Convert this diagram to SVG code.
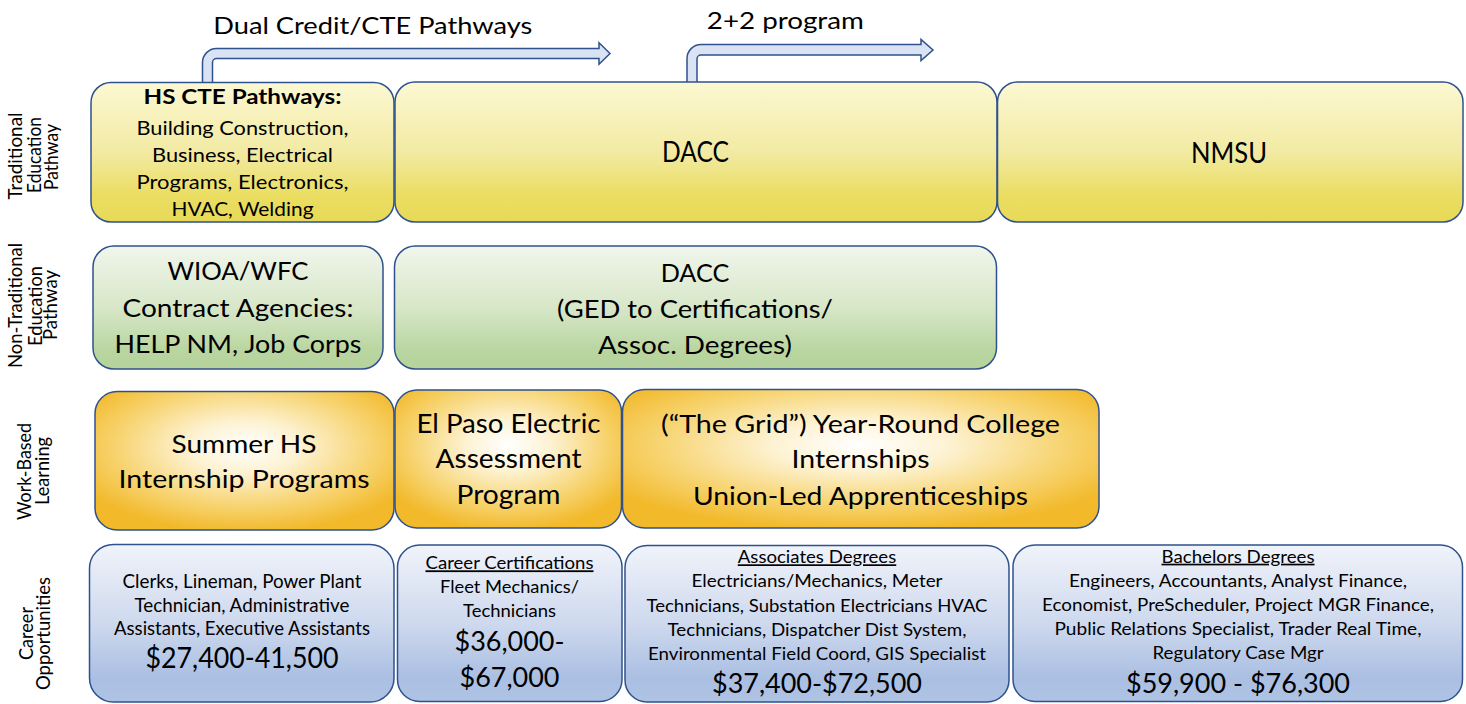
<svg xmlns="http://www.w3.org/2000/svg" width="1466" height="704" viewBox="0 0 1466 704">
<defs>
<linearGradient id="gy" x1="0" y1="0" x2="0" y2="1">
<stop offset="0" stop-color="#fcf8d2"/>
<stop offset="0.5" stop-color="#f2eaa3"/>
<stop offset="0.82" stop-color="#eadd60"/>
<stop offset="1" stop-color="#e8da58"/>
</linearGradient>
<linearGradient id="gg" x1="0" y1="0" x2="0" y2="1">
<stop offset="0" stop-color="#f1f6ec"/>
<stop offset="0.5" stop-color="#d7e7c8"/>
<stop offset="0.85" stop-color="#b9d5a0"/>
<stop offset="1" stop-color="#b6d39c"/>
</linearGradient>
<radialGradient id="go" cx="0.5" cy="0.4" r="0.62">
<stop offset="0" stop-color="#ffffff"/>
<stop offset="0.3" stop-color="#fdf2d2"/>
<stop offset="0.7" stop-color="#f7d36e"/>
<stop offset="1" stop-color="#f2b92a"/>
</radialGradient>
<linearGradient id="gb" x1="0" y1="0" x2="0" y2="1">
<stop offset="0" stop-color="#f0f3fa"/>
<stop offset="0.5" stop-color="#ced9ee"/>
<stop offset="0.85" stop-color="#aabfe2"/>
<stop offset="1" stop-color="#afc3e4"/>
</linearGradient>
</defs>
<style>
.bx{stroke:#2f528f;stroke-width:1.5}
.y{fill:url(#gy)}
.g{fill:url(#gg)}
.o{fill:url(#go)}
.b{fill:url(#gb)}
text{font-family:Lato,"Open Sans","Liberation Sans",sans-serif;fill:#000;text-anchor:middle}
.lb{font-size:18.5px}
.arrow{fill:#dae3f3;stroke:#2f528f;stroke-width:1.5;stroke-linejoin:miter}
.u{text-decoration:underline}
</style>
<rect width="1466" height="704" fill="#ffffff"/>

<g id="row-labels">
<text class="lb" transform="translate(22,156) rotate(-90)" textLength="87" lengthAdjust="spacingAndGlyphs">Traditional</text>
<text class="lb" transform="translate(41,155) rotate(-90)" textLength="76" lengthAdjust="spacingAndGlyphs">Education</text>
<text class="lb" transform="translate(57.5,157) rotate(-90)" textLength="66" lengthAdjust="spacingAndGlyphs">Pathway</text>
<text class="lb" transform="translate(22,305.5) rotate(-90)" textLength="125" lengthAdjust="spacingAndGlyphs">Non-Traditional</text>
<text class="lb" transform="translate(41.5,306) rotate(-90)" textLength="80" lengthAdjust="spacingAndGlyphs">Education</text>
<text class="lb" transform="translate(57,305) rotate(-90)" textLength="70" lengthAdjust="spacingAndGlyphs">Pathway</text>
<text class="lb" transform="translate(31,471.5) rotate(-90)" textLength="97" lengthAdjust="spacingAndGlyphs">Work-Based</text>
<text class="lb" transform="translate(48.5,471) rotate(-90)" textLength="68" lengthAdjust="spacingAndGlyphs">Learning</text>
<text class="lb" transform="translate(32.5,633.5) rotate(-90)" textLength="53" lengthAdjust="spacingAndGlyphs">Career</text>
<text class="lb" transform="translate(49.5,633.5) rotate(-90)" textLength="113" lengthAdjust="spacingAndGlyphs">Opportunities</text>
</g>

<g id="connectors">
<path class="arrow" d="M202.5,83 L202.5,62.5 A14,14 0 0 1 216.5,48.5 L599,48.5 L599,42.8 L610,53.5 L599,64.2 L599,58.5 L216.5,58.5 A4,4 0 0 0 212.5,62.5 L212.5,83 Z"/>
<text x="372.8" y="34.3" style="font-size:23px" textLength="319" lengthAdjust="spacingAndGlyphs">Dual Credit/CTE Pathways</text>
<path class="arrow" d="M687,83 L687,58.5 A14,14 0 0 1 701,44.5 L921,44.5 L921,39.5 L933,50 L921,60.5 L921,55 L701,55 A4,4 0 0 0 697,59 L697,83 Z"/>
<text x="785.3" y="29.3" style="font-size:23.5px" textLength="157" lengthAdjust="spacingAndGlyphs">2+2 program</text>
</g>

<g id="hs-cte">
<rect class="bx y" x="91" y="82.5" width="303" height="139.5" rx="20"/>
<text x="242.5" y="104" style="font-size:21px;font-weight:bold" textLength="198" lengthAdjust="spacingAndGlyphs">HS CTE Pathways:</text>
<text x="242.5" y="134.5" style="font-size:20px" textLength="212" lengthAdjust="spacingAndGlyphs">Building Construction,</text>
<text x="242.5" y="161.5" style="font-size:20px" textLength="181" lengthAdjust="spacingAndGlyphs">Business, Electrical</text>
<text x="242.5" y="188.5" style="font-size:20px" textLength="212" lengthAdjust="spacingAndGlyphs">Programs, Electronics,</text>
<text x="242.5" y="216" style="font-size:20px" textLength="142" lengthAdjust="spacingAndGlyphs">HVAC, Welding</text>
</g>

<g id="dacc-traditional">
<rect class="bx y" x="395" y="82" width="602" height="140" rx="20"/>
<text x="695.5" y="162" style="font-size:28px" textLength="67" lengthAdjust="spacingAndGlyphs">DACC</text>
</g>

<g id="nmsu">
<rect class="bx y" x="997.5" y="82" width="465.5" height="140" rx="20"/>
<text x="1229" y="163" style="font-size:28px" textLength="76" lengthAdjust="spacingAndGlyphs">NMSU</text>
</g>

<g id="wioa">
<rect class="bx g" x="93" y="246" width="290" height="123" rx="21"/>
<text x="238" y="280" style="font-size:25px" textLength="141" lengthAdjust="spacingAndGlyphs">WIOA/WFC</text>
<text x="238" y="317.3" style="font-size:25px" textLength="231" lengthAdjust="spacingAndGlyphs">Contract Agencies:</text>
<text x="238" y="353.3" style="font-size:25px" textLength="247" lengthAdjust="spacingAndGlyphs">HELP NM, Job Corps</text>
</g>

<g id="dacc-nontraditional">
<rect class="bx g" x="394.5" y="246" width="602" height="123" rx="21"/>
<text x="695" y="281.7" style="font-size:25px" textLength="68.6" lengthAdjust="spacingAndGlyphs">DACC</text>
<text x="695" y="318.3" style="font-size:25px" textLength="276" lengthAdjust="spacingAndGlyphs">(GED to Certifications/</text>
<text x="695" y="354" style="font-size:25px" textLength="194" lengthAdjust="spacingAndGlyphs">Assoc. Degrees)</text>
</g>

<g id="summer-hs">
<rect class="bx o" x="95" y="391.5" width="299" height="138.5" rx="22"/>
<text x="244" y="452.7" style="font-size:25.5px" textLength="145" lengthAdjust="spacingAndGlyphs">Summer HS</text>
<text x="244" y="488.3" style="font-size:25.5px" textLength="251" lengthAdjust="spacingAndGlyphs">Internship Programs</text>
</g>

<g id="el-paso">
<rect class="bx o" x="395" y="390" width="226.5" height="138" rx="22"/>
<text x="508.5" y="433.3" style="font-size:26.5px" textLength="184" lengthAdjust="spacingAndGlyphs">El Paso Electric</text>
<text x="508.5" y="468.3" style="font-size:26.5px" textLength="146" lengthAdjust="spacingAndGlyphs">Assessment</text>
<text x="508.5" y="504" style="font-size:26.5px" textLength="104" lengthAdjust="spacingAndGlyphs">Program</text>
</g>

<g id="the-grid">
<rect class="bx o" x="622.5" y="389.5" width="476.5" height="138.5" rx="22"/>
<text x="860.5" y="432.7" style="font-size:25.5px" textLength="399" lengthAdjust="spacingAndGlyphs">(“The Grid”) Year-Round College</text>
<text x="860.5" y="468.3" style="font-size:25.5px" textLength="138" lengthAdjust="spacingAndGlyphs">Internships</text>
<text x="860.5" y="505" style="font-size:25.5px" textLength="335" lengthAdjust="spacingAndGlyphs">Union-Led Apprenticeships</text>
</g>

<g id="career-hs">
<rect class="bx b" x="89.5" y="544.5" width="304.5" height="157.5" rx="24"/>
<text x="242" y="588.3" style="font-size:19px" textLength="239" lengthAdjust="spacingAndGlyphs">Clerks, Lineman, Power Plant</text>
<text x="242" y="611.7" style="font-size:19px" textLength="215" lengthAdjust="spacingAndGlyphs">Technician, Administrative</text>
<text x="242" y="635" style="font-size:19px" textLength="256" lengthAdjust="spacingAndGlyphs">Assistants, Executive Assistants</text>
<text x="242" y="668.3" style="font-size:28px" textLength="193" lengthAdjust="spacingAndGlyphs">$27,400-41,500</text>
</g>

<g id="career-certifications">
<rect class="bx b" x="397.5" y="545" width="224.5" height="156.5" rx="22"/>
<text class="u" x="509.5" y="569.3" style="font-size:18px" textLength="168" lengthAdjust="spacingAndGlyphs">Career Certifications</text>
<text x="509.5" y="593.3" style="font-size:18px" textLength="139" lengthAdjust="spacingAndGlyphs">Fleet Mechanics/</text>
<text x="509.5" y="617.3" style="font-size:18px" textLength="93" lengthAdjust="spacingAndGlyphs">Technicians</text>
<text x="509.5" y="651" style="font-size:26px" textLength="110" lengthAdjust="spacingAndGlyphs">$36,000-</text>
<text x="509.5" y="686.7" style="font-size:26px" textLength="100" lengthAdjust="spacingAndGlyphs">$67,000</text>
</g>

<g id="associates-degrees">
<rect class="bx b" x="625" y="545.5" width="384" height="156.5" rx="22"/>
<text class="u" x="817" y="563.3" style="font-size:17px" textLength="158.5" lengthAdjust="spacingAndGlyphs">Associates Degrees</text>
<text x="817" y="587.3" style="font-size:17px" textLength="251" lengthAdjust="spacingAndGlyphs">Electricians/Mechanics, Meter</text>
<text x="817" y="611.7" style="font-size:17px" textLength="341" lengthAdjust="spacingAndGlyphs">Technicians, Substation Electricians HVAC</text>
<text x="817" y="636" style="font-size:17px" textLength="299" lengthAdjust="spacingAndGlyphs">Technicians, Dispatcher Dist System,</text>
<text x="817" y="660" style="font-size:17px" textLength="338" lengthAdjust="spacingAndGlyphs">Environmental Field Coord, GIS Specialist</text>
<text x="817" y="693.3" style="font-size:26px" textLength="210" lengthAdjust="spacingAndGlyphs">$37,400-$72,500</text>
</g>

<g id="bachelors-degrees">
<rect class="bx b" x="1013" y="545" width="449.5" height="156.5" rx="22"/>
<text class="u" x="1238" y="562.7" style="font-size:17px" textLength="153" lengthAdjust="spacingAndGlyphs">Bachelors Degrees</text>
<text x="1238" y="586.7" style="font-size:17px" textLength="338" lengthAdjust="spacingAndGlyphs">Engineers, Accountants, Analyst Finance,</text>
<text x="1238" y="610.7" style="font-size:17px" textLength="392" lengthAdjust="spacingAndGlyphs">Economist, PreScheduler, Project MGR Finance,</text>
<text x="1238" y="635" style="font-size:17px" textLength="367" lengthAdjust="spacingAndGlyphs">Public Relations Specialist, Trader Real Time,</text>
<text x="1238" y="659.3" style="font-size:17px" textLength="171" lengthAdjust="spacingAndGlyphs">Regulatory Case Mgr</text>
<text x="1238" y="693.3" style="font-size:26px" textLength="224" lengthAdjust="spacingAndGlyphs">$59,900 - $76,300</text>
</g>
</svg>
